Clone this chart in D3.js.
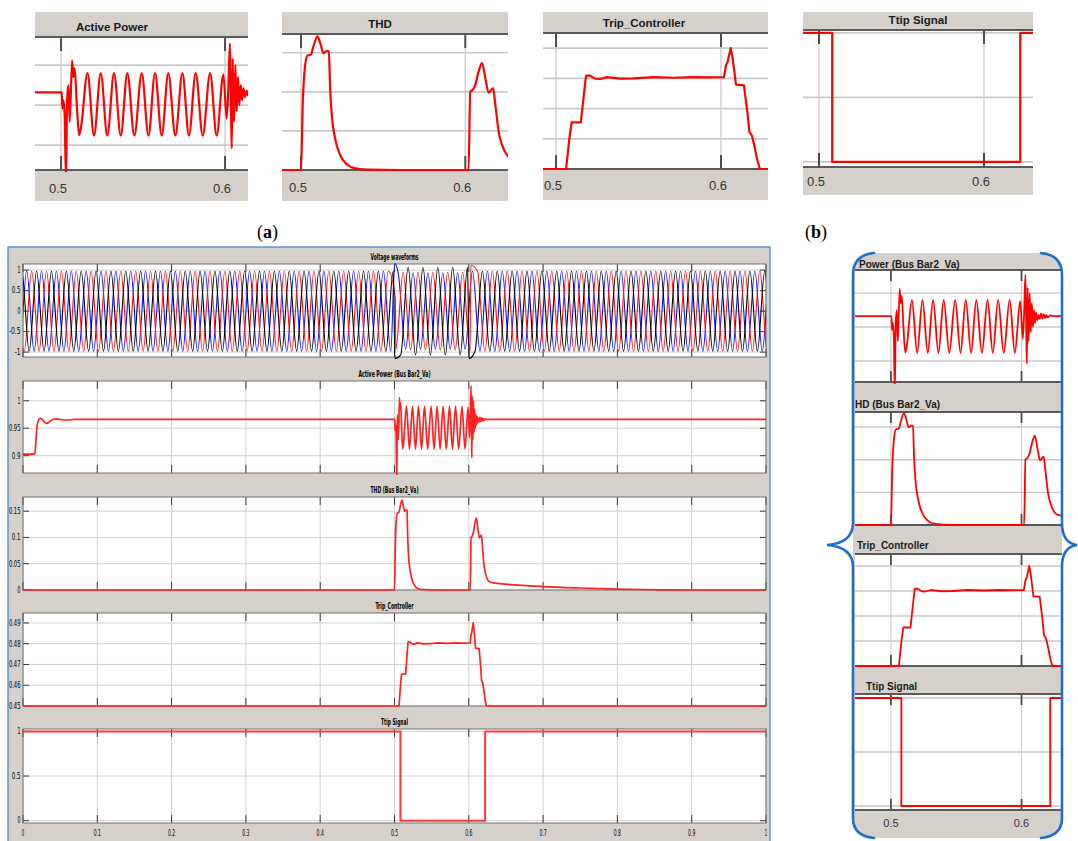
<!DOCTYPE html>
<html>
<head>
<meta charset="utf-8">
<script src="https://cdn.jsdelivr.net/npm/d3@7"></script>
<style>
  body { margin: 0; background: #fff; }
  svg { display: block; font-family: Arial, 'Liberation Sans', sans-serif; }
  .narrow { font-family: 'Liberation Sans Narrow', 'DejaVu Sans Condensed', Arial, sans-serif; }
</style>
</head>
<body>
<svg id="fig" width="1078" height="841"></svg>
<script>
// ---- data: [time (s), value] ----
const apTrace = [[0,0.903],[0.016,0.903],[0.0175,0.93],[0.019,0.955],[0.021,0.965],[0.023,0.968],[0.026,0.966],
  [0.029,0.961],[0.032,0.959],[0.036,0.962],[0.040,0.966],[0.045,0.967],[0.052,0.9655],[0.06,0.965],[0.07,0.966],
  [0.1,0.966],[0.5004,0.966],[0.5008,0.946],[0.5014,0.956],[0.5022,0.9375],[0.5030,0.855],[0.5037,0.958],
  [0.5045,0.975],[0.5053,0.929],[0.5067,1.006],[0.5075,0.985],[0.5083,0.996],[0.5096,0.95],[0.5110,0.9125],
  [0.5122,0.923],[0.5161,0.99],[0.5201,0.912],[0.5242,0.99],[0.5282,0.912],[0.5323,0.99],[0.5364,0.912],
  [0.5404,0.99],[0.5447,0.912],[0.5492,0.99],[0.5533,0.912],[0.5573,0.99],[0.5614,0.912],[0.5654,0.99],
  [0.5697,0.912],[0.5740,0.99],[0.5780,0.912],[0.5821,0.99],[0.5864,0.912],[0.5909,0.99],[0.5949,0.912],
  [0.5990,0.988],[0.6010,0.933],[0.6020,0.971],[0.6030,1.027],[0.6037,0.9375],[0.6041,0.896],[0.6047,1.008],
  [0.6055,0.929],[0.6063,1.0],[0.6071,0.942],[0.6079,0.985],[0.6087,0.95],[0.6096,0.975],[0.6104,0.956],
  [0.6112,0.971],[0.6122,0.960],[0.6132,0.968],[0.614,0.962],[0.615,0.970],[0.616,0.962],[0.617,0.969],
  [0.618,0.963],[0.619,0.968],[0.620,0.964],[0.622,0.967],[0.625,0.966],[1,0.966]];

const thdTrace = [[0,0],[0.5,0],[0.5010,0.083],[0.5024,0.1325],[0.5039,0.1466],[0.5059,0.1474],[0.5075,0.158],
  [0.5100,0.171],[0.5120,0.160],[0.5136,0.1496],[0.5157,0.1526],[0.5169,0.1517],[0.5177,0.1047],[0.5187,0.0705],
  [0.5207,0.0406],[0.5238,0.0192],[0.5278,0.0073],[0.5329,0.002],[0.5400,0.0006],[0.56,0],[0.6020,0],
  [0.6030,0.1004],[0.6045,0.1026],[0.6061,0.109],[0.6081,0.126],[0.6102,0.1368],[0.6122,0.1175],[0.6142,0.0991],
  [0.6169,0.1047],[0.6183,0.0833],[0.6203,0.0491],[0.6224,0.032],[0.6254,0.0192],[0.628,0.0155],[0.633,0.0135],
  [0.65,0.011],[0.7,0.0065],[0.75,0.0038],[0.8,0.0018],[0.85,0.0005],[0.9,0],[1,0]];

const tripCtrlTrace = [[0,0.45],[0.5061,0.45],[0.5081,0.4601],[0.5095,0.4654],[0.5150,0.4654],[0.5166,0.4733],
  [0.5182,0.4808],[0.5202,0.481],[0.5236,0.4799],[0.5267,0.4798],[0.5307,0.4804],[0.5388,0.4799],[0.5469,0.48],
  [0.5590,0.4804],[0.5711,0.4802],[0.5832,0.4804],[0.5913,0.4803],[0.6018,0.4804],[0.6030,0.4843],[0.6040,0.4854],
  [0.6059,0.49],[0.6071,0.4865],[0.6091,0.4779],[0.6139,0.4777],[0.6160,0.4689],[0.6172,0.4623],[0.6188,0.461],
  [0.6206,0.4568],[0.6220,0.453],[0.6236,0.45],[1,0.45]];

const ttipTrace = [[0,1],[0.508,1],[0.508,0],[0.622,0],[0.622,1],[1,1]];

// three-phase bus voltage (p.u.)
const voltPhaseNames = ['Va', 'Vb', 'Vc'];
const voltColors = ['#1010ff', '#ff1010', '#000000'];
const voltNominalPeak = 0.98;
const voltFreqHz = 50;
const voltPhaseDeg = [0, -120, 120];
const voltSagWindow = [0.5, 0.6];
const voltSagPeak = [0.93, 0.95, 1.07];
const voltSpikes = [[[0.5003, 1.16]], [[0.5012, 0.3], [0.6028, 1.12]], [[0.5006, -1.16], [0.6004, -1.16]]];

// tick values
const xTicksFull = [0, 0.1, 0.2, 0.3, 0.4, 0.5, 0.6, 0.7, 0.8, 0.9, 1];
const xTicksZoom = [0.5, 0.6];
const voltTicks = [-1, -0.5, 0, 0.5, 1];
const apTicks = [0.9, 0.95, 1];
const thdTicks = [0, 0.05, 0.1, 0.15];
const tripTicks = [0.45, 0.46, 0.47, 0.48, 0.49];
const ttipTicks = [0, 0.5, 1];

// ---- build voltage extrema ----
function voltageSeries(p) {
  const pts = [];
  for (let k = -2; k <= 102; k++) {
    const t = (90 + 180 * k - voltPhaseDeg[p]) / (360 * voltFreqHz);
    const inSag = t > voltSagWindow[0] && t < voltSagWindow[1];
    const a = inSag ? voltSagPeak[p] : voltNominalPeak;
    pts.push([t, (k % 2 === 0 ? 1 : -1) * a]);
  }
  voltSpikes[p].forEach(s => pts.push(s));
  return pts.sort((a, b) => a[0] - b[0]);
}

const svg = d3.select('#fig');
const defs = svg.append('defs');
const GRAY = '#d5d1ca';
let clipCount = 0;

const styles = {
  small: { grid: '#c9c9c9', gridW: 1.7, vgrid: '#cacaca', vgridW: 1.3, tick: '#4c4c4c', tickW: 2, tickLen: 14, border: '#5a5a5a', borderW: 2, lineW: 2.2 },
  right: { grid: '#c9c9c9', gridW: 1.4, vgrid: '#cacaca', vgridW: 1.1, tick: '#4c4c4c', tickW: 1.8, tickLen: 11, border: '#5a5a5a', borderW: 1.8, lineW: 1.8 },
  big:   { grid: '#cfcfcf', gridW: 1, vgrid: '#cfcfcf', vgridW: 1, tick: '#3a3a3a', tickW: 1, tickLen: 8, border: '#707070', borderW: 1, lineW: 1.7 }
};

function scope(g, c) {
  const st = styles[c.style];
  const x = d3.scaleLinear().domain(c.xDomain).range([c.x0, c.x1]);
  const y = d3.scaleLinear().domain(c.yDomain).range([c.bottom, c.top]);
  const id = 'clip' + (clipCount++);
  defs.append('clipPath').attr('id', id).append('rect')
    .attr('x', c.x0).attr('y', c.top - 2).attr('width', c.x1 - c.x0).attr('height', c.bottom - c.top + 4);

  g.append('rect').attr('x', c.x0).attr('y', c.top)
    .attr('width', c.x1 - c.x0).attr('height', c.bottom - c.top).attr('fill', '#fff');

  g.selectAll(null).data(c.yGrid).enter().append('line')
    .attr('x1', c.x0).attr('x2', c.x1).attr('y1', d => y(d)).attr('y2', d => y(d))
    .attr('stroke', st.grid).attr('stroke-width', st.gridW);
  g.selectAll(null).data(c.xGrid).enter().append('line')
    .attr('x1', d => x(d)).attr('x2', d => x(d)).attr('y1', c.top).attr('y2', c.bottom)
    .attr('stroke', st.vgrid).attr('stroke-width', st.vgridW);

  // inward tick marks on the vertical grid lines
  c.xGrid.forEach(d => {
    [[c.top, c.top + st.tickLen], [c.bottom - st.tickLen, c.bottom]].forEach(r => {
      g.append('line').attr('x1', x(d)).attr('x2', x(d)).attr('y1', r[0]).attr('y2', r[1])
        .attr('stroke', st.tick).attr('stroke-width', st.tickW);
    });
  });

  if (c.style === 'big') {
    c.yGrid.forEach(d => {
      [[c.x0, c.x0 + 6], [c.x1 - 6, c.x1]].forEach(r => {
        g.append('line').attr('x1', r[0]).attr('x2', r[1]).attr('y1', y(d)).attr('y2', y(d))
          .attr('stroke', st.tick).attr('stroke-width', 1);
      });
    });
    g.selectAll(null).data(c.yGrid).enter().append('text')
      .attr('class', 'narrow')
      .attr('x', c.x0 - 2.5).attr('y', d => y(d)).attr('dy', '0.33em')
      .attr('text-anchor', 'end').attr('font-size', 8.5).attr('fill', '#000')
      .attr('textLength', d => String(+d.toFixed(2)).length * 2.9).attr('lengthAdjust', 'spacingAndGlyphs')
      .text(d => String(+d.toFixed(2)));
    g.append('rect').attr('x', c.x0).attr('y', c.top)
      .attr('width', c.x1 - c.x0).attr('height', c.bottom - c.top)
      .attr('fill', 'none').attr('stroke', st.border).attr('stroke-width', st.borderW);
  } else {
    [c.top, c.bottom].forEach(yy => {
      g.append('line').attr('x1', c.x0).attr('x2', c.x1).attr('y1', yy).attr('y2', yy)
        .attr('stroke', st.border).attr('stroke-width', st.borderW);
    });
  }

  c.series.forEach(s => {
    const line = d3.line().x(d => x(d[0])).y(d => y(d[1])).curve(s.curve || d3.curveLinear);
    g.append('path').datum(s.data).attr('clip-path', `url(#${id})`)
      .attr('fill', 'none').attr('stroke', s.color).attr('stroke-width', s.width || st.lineW)
      .attr('stroke-linejoin', 'round').attr('d', line);
  });
  return x;
}

// ---- (a) zoomed scope captures ----
const zoomPanels = [
  { title: 'Active Power', titleX: 112, titleY: 27, x0: 35, x1: 248, barTop: 12, top: 37, bottom: 170, barBottom: 201, labelY: 188,
    xDomain: [0.4841, 0.614], yDomain: [0.869, 1.035], yGrid: [0.9, 0.95, 1.0], data: apTrace, curve: d3.curveMonotoneX },
  { title: 'THD', titleX: 380, titleY: 24, x0: 282, x1: 508, barTop: 12, top: 34, bottom: 170, barBottom: 201, labelY: 187,
    xDomain: [0.4884, 0.626], yDomain: [0, 0.174], yGrid: [0.05, 0.1, 0.15], data: thdTrace, curve: d3.curveMonotoneX },
  { title: 'Trip_Controller', titleX: 644, titleY: 23, x0: 543, x1: 768, barTop: 12, top: 33, bottom: 169, barBottom: 200, labelY: 185,
    xDomain: [0.4921, 0.6285], yDomain: [0.45, 0.495], yGrid: [0.46, 0.47, 0.48, 0.49], data: tripCtrlTrace, curve: d3.curveLinear },
  { title: 'Ttip Signal', titleX: 918, titleY: 20, x0: 803, x1: 1033, barTop: 12, top: 30, bottom: 167, barBottom: 195, labelY: 181,
    xDomain: [0.4903, 0.6297], yDomain: [-0.039, 1.023], yGrid: [0, 0.5, 1], data: ttipTrace, curve: d3.curveLinear }
];

zoomPanels.forEach(p => {
  const g = svg.append('g');
  g.append('rect').attr('x', p.x0).attr('y', p.barTop).attr('width', p.x1 - p.x0)
    .attr('height', p.barBottom - p.barTop).attr('fill', GRAY);
  const x = scope(g, Object.assign({ style: 'small', xGrid: xTicksZoom, series: [{ data: p.data, color: '#ff0000', curve: p.curve }] }, p));
  g.append('text').attr('x', p.titleX).attr('y', p.titleY).attr('dy', '0.35em')
    .attr('text-anchor', 'middle').attr('font-size', 11.5).attr('font-weight', 'bold').attr('fill', '#1a1a1a')
    .text(p.title);
  g.selectAll(null).data(xTicksZoom).enter().append('text')
    .attr('x', d => x(d) - 3).attr('y', p.labelY).attr('dy', '0.35em')
    .attr('text-anchor', 'middle').attr('font-size', 13).attr('fill', '#333')
    .text(d => d.toFixed(1));
});

// panel captions
function caption(xx, letter) {
  const t = svg.append('text').attr('x', xx).attr('y', 238)
    .attr('font-family', "'Liberation Serif', 'DejaVu Serif', serif").attr('font-size', 18).attr('fill', '#000');
  t.append('tspan').text('(');
  t.append('tspan').attr('font-weight', 'bold').text(letter);
  t.append('tspan').text(')');
}
caption(257, 'a');
caption(805, 'b');

// ---- main scope window ----
const main = svg.append('g');
main.append('rect').attr('x', 8).attr('y', 247).attr('width', 762).attr('height', 600)
  .attr('fill', GRAY).attr('stroke', '#4a8ad4').attr('stroke-width', 1.3);

const mainX0 = 23, mainX1 = 766;
const mainPanels = [
  { title: 'Voltage waveforms', titleW: 48, top: 264, bottom: 357, yDomain: [-1.12, 1.15], yGrid: voltTicks,
    series: voltPhaseNames.map((n, i) => ({ data: voltageSeries(i), color: voltColors[i], width: 1.1, curve: d3.curveMonotoneX })) },
  { title: 'Active Power (Bus Bar2_Va)', titleW: 72, top: 381, bottom: 473, yDomain: [0.8685, 1.036], yGrid: apTicks,
    series: [{ data: apTrace, color: '#ff2020', curve: d3.curveMonotoneX }] },
  { title: 'THD (Bus Bar2_Va)', titleW: 48, top: 497, bottom: 590, yDomain: [0, 0.177], yGrid: thdTicks,
    series: [{ data: thdTrace, color: '#ff2020', curve: d3.curveMonotoneX }] },
  { title: 'Trip_Controller', titleW: 38, top: 613, bottom: 706, yDomain: [0.45, 0.4948], yGrid: tripTicks,
    series: [{ data: tripCtrlTrace, color: '#ff2020' }] },
  { title: 'Ttip Signal', titleW: 27, top: 729, bottom: 823, yDomain: [-0.026, 1.027], yGrid: ttipTicks,
    series: [{ data: ttipTrace, color: '#ff3838', width: 2 }] }
];

let mainX;
mainPanels.forEach(p => {
  mainX = scope(main, Object.assign({ style: 'big', x0: mainX0, x1: mainX1, xDomain: [0, 1], xGrid: xTicksFull }, p));
  main.append('text').attr('class', 'narrow')
    .attr('x', (mainX0 + mainX1) / 2).attr('y', p.top - 4).attr('text-anchor', 'middle')
    .attr('font-size', 8.5).attr('font-weight', 'bold').attr('fill', '#000')
    .attr('textLength', p.titleW).attr('lengthAdjust', 'spacingAndGlyphs').text(p.title);
});
main.selectAll(null).data(xTicksFull).enter().append('text').attr('class', 'narrow')
  .attr('x', d => mainX(d)).attr('y', 836).attr('text-anchor', 'middle')
  .attr('font-size', 8).attr('fill', '#000')
  .attr('textLength', d => String(d).length * 2.4).attr('lengthAdjust', 'spacingAndGlyphs')
  .text(d => String(d));

// ---- (b) right-hand zoom with braces ----
const right = svg.append('g');
const bx0 = 853, bx1 = 1062;
const innerShape = `M872,253 Q${bx0},256 ${bx0},275 L${bx0},818 Q${bx0},836 872,838 L1042,838 Q${bx1},836 ${bx1},818 L${bx1},275 Q${bx1},256 1042,253 Z`;
defs.append('clipPath').attr('id', 'braceClip').append('path').attr('d', innerShape);
const rg = right.append('g').attr('clip-path', 'url(#braceClip)');
rg.append('rect').attr('x', bx0).attr('y', 250).attr('width', bx1 - bx0).attr('height', 590).attr('fill', GRAY);

const rightPanels = [
  { title: 'Power (Bus Bar2_Va)', titleX: 859, titleY: 264, top: 270, bottom: 382, yDomain: [0.869, 1.034], yGrid: [0.9, 0.95, 1.0],
    data: apTrace, curve: d3.curveMonotoneX },
  { title: 'HD (Bus Bar2_Va)', titleX: 855, titleY: 404, top: 412, bottom: 525, yDomain: [0, 0.173], yGrid: [0.05, 0.1, 0.15],
    data: thdTrace, curve: d3.curveMonotoneX },
  { title: 'Trip_Controller', titleX: 857, titleY: 545, top: 554, bottom: 666, yDomain: [0.45, 0.4948], yGrid: [0.46, 0.47, 0.48, 0.49],
    data: tripCtrlTrace, curve: d3.curveLinear },
  { title: 'Ttip Signal', titleX: 866, titleY: 686, top: 694, bottom: 810, yDomain: [-0.037, 1.037], yGrid: [0, 0.5, 1],
    data: ttipTrace, curve: d3.curveLinear }
];
let rightX;
rightPanels.forEach(p => {
  rightX = scope(rg, Object.assign({ style: 'right', x0: 855, x1: 1062, xDomain: [0.4725, 0.631], xGrid: xTicksZoom,
    series: [{ data: p.data, color: '#ff0000', curve: p.curve }] }, p));
  rg.append('text').attr('x', p.titleX).attr('y', p.titleY).attr('dy', '0.35em')
    .attr('font-size', 10).attr('font-weight', 'bold').attr('fill', '#1a1a1a').text(p.title);
});
rg.selectAll(null).data(xTicksZoom).enter().append('text')
  .attr('x', d => rightX(d)).attr('y', 823).attr('dy', '0.35em').attr('text-anchor', 'middle')
  .attr('font-size', 11).attr('fill', '#333').text(d => d.toFixed(1));

const braceStyle = sel => sel.attr('fill', 'none').attr('stroke', '#1f6fc8').attr('stroke-width', 2.6).attr('stroke-linecap', 'round');
right.append('path').call(braceStyle)
  .attr('d', `M874,253 Q${bx0},255 ${bx0},275 L${bx0},523 Q${bx0},543 827,545 Q${bx0},547 ${bx0},567 L${bx0},818 Q${bx0},836 874,838`);
right.append('path').call(braceStyle)
  .attr('d', `M1041,253 Q${bx1},255 ${bx1},275 L${bx1},523 Q${bx1},543 1077,545 Q${bx1},547 ${bx1},567 L${bx1},818 Q${bx1},836 1041,838`);
</script>
</body>
</html>
